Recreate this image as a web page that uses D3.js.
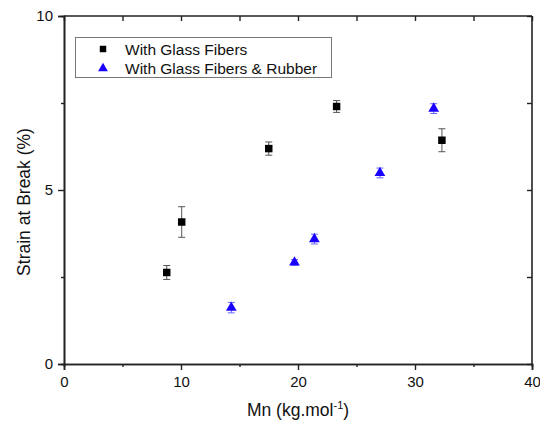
<!DOCTYPE html>
<html><head><meta charset="utf-8">
<script src="https://cdn.jsdelivr.net/npm/d3@7/dist/d3.min.js"></script>
<style>body{margin:0;background:#fff;} text{font-family:Arial,"Liberation Sans",sans-serif;}</style>
</head><body><svg id="c" width="540" height="422"></svg>
<script>
const seriesNames = ["With Glass Fibers", "With Glass Fibers & Rubber"];
const glassX = [8.78, 10.06, 17.5, 23.3, 32.3];
const glassY = [2.63, 4.08, 6.19, 7.40, 6.43];
const glassErr = [0.2, 0.44, 0.19, 0.17, 0.33];
const rubberX = [14.3, 19.7, 21.4, 27.0, 31.6];
const rubberY = [1.62, 2.92, 3.59, 5.49, 7.34];
const rubberErr = [0.15, 0.08, 0.14, 0.14, 0.14];
const xTicks = [0, 10, 20, 30, 40];
const xMinor = [5, 15, 25, 35];
const yTicks = [0, 5, 10];
const yMinor = [2.5, 7.5];

const svg = d3.select("#c");
const L = 64, R = 532, T = 16, B = 364;
const x = d3.scaleLinear().domain([0, 40]).range([L, R]);
const y = d3.scaleLinear().domain([0, 10]).range([B, T]);

// axes
const gx = svg.append("g").attr("transform", `translate(0,${B})`)
  .call(d3.axisBottom(x).tickValues(xTicks).tickSize(6).tickPadding(6).tickFormat(d3.format("d")));
const gxm = svg.append("g").attr("transform", `translate(0,${B})`)
  .call(d3.axisBottom(x).tickValues(xMinor).tickSize(3).tickFormat(""));
const gy = svg.append("g").attr("transform", `translate(${L},0)`)
  .call(d3.axisLeft(y).tickValues(yTicks).tickSize(6).tickPadding(5).tickFormat(d3.format("d")));
const gym = svg.append("g").attr("transform", `translate(${L},0)`)
  .call(d3.axisLeft(y).tickValues(yMinor).tickSize(3).tickFormat(""));
const gt = svg.append("g").attr("transform", `translate(0,${T})`)
  .call(d3.axisBottom(x).tickValues(xTicks.concat(xMinor)).tickSize(5).tickFormat(""));
const gr = svg.append("g").attr("transform", `translate(${R},0)`)
  .call(d3.axisLeft(y).tickValues(yTicks.concat(yMinor)).tickSize(5).tickFormat(""));
[gx, gxm, gy, gym, gt, gr].forEach(g => {
  g.attr("font-size", null).attr("font-family", null);
  g.selectAll(".domain").attr("stroke", "#222").attr("stroke-width", 1.6);
  g.selectAll(".tick line").attr("stroke", "#222").attr("stroke-width", 1.4);
  g.selectAll("text").style("font-size", "15px").attr("fill", "#111")
    .style("font-family", "Arial, 'Liberation Sans', sans-serif");
});
gt.select(".domain").remove(); gr.select(".domain").remove();
svg.append("line").attr("x1", L).attr("x2", R).attr("y1", T).attr("y2", T).attr("stroke", "#222").attr("stroke-width", 1.6);
svg.append("line").attr("x1", R).attr("x2", R).attr("y1", T).attr("y2", B).attr("stroke", "#222").attr("stroke-width", 1.6);

// titles
svg.append("text").attr("x", (L + R) / 2).attr("y", 416).attr("text-anchor", "middle")
  .style("font-size", "17.5px").attr("fill", "#111")
  .html('Mn (kg.mol<tspan dy="-7" style="font-size:11px">-1</tspan><tspan dy="7">)</tspan>');
svg.append("text").attr("transform", `translate(30,${202}) rotate(-90)`).attr("text-anchor", "middle")
  .style("font-size", "17.5px").attr("fill", "#111").text("Strain at Break (%)");

function errbars(xs, ys, es, color) {
  const g = svg.append("g").attr("stroke", color).attr("stroke-width", 1);
  xs.forEach((xv, i) => {
    const cx = x(xv), y1 = y(ys[i] + es[i]), y2 = y(ys[i] - es[i]);
    g.append("line").attr("x1", cx).attr("x2", cx).attr("y1", y1).attr("y2", y2);
    g.append("line").attr("x1", cx - 3.5).attr("x2", cx + 3.5).attr("y1", y1).attr("y2", y1);
    g.append("line").attr("x1", cx - 3.5).attr("x2", cx + 3.5).attr("y1", y2).attr("y2", y2);
  });
}
errbars(glassX, glassY, glassErr, "#555");
errbars(rubberX, rubberY, rubberErr, "#6666ff");

const sq = d3.symbol().type(d3.symbolSquare).size(56);
const tri = d3.symbol().type(d3.symbolTriangle).size(50);
svg.append("g").selectAll("path").data(glassX).join("path")
  .attr("d", sq).attr("transform", (d, i) => `translate(${x(d)},${y(glassY[i])})`).attr("fill", "#000");
svg.append("g").selectAll("path").data(rubberX).join("path")
  .attr("d", tri).attr("transform", (d, i) => `translate(${x(d)},${y(rubberY[i])})`).attr("fill", "#1a00ff");

// legend
const lg = svg.append("g");
lg.append("rect").attr("x", 75.5).attr("y", 37.5).attr("width", 256).attr("height", 40)
  .attr("fill", "#fff").attr("stroke", "#777").attr("stroke-width", 1);
lg.append("path").attr("d", d3.symbol().type(d3.symbolSquare).size(42)).attr("transform", "translate(103,49)").attr("fill", "#000");
lg.append("path").attr("d", d3.symbol().type(d3.symbolTriangle).size(42)).attr("transform", "translate(103,68.5)").attr("fill", "#1a00ff");
seriesNames.forEach((n, i) => {
  lg.append("text").attr("x", 125).attr("y", 54.5 + i * 19.5).style("font-size", "15.5px").attr("fill", "#111").text(n);
});
</script></body></html>
